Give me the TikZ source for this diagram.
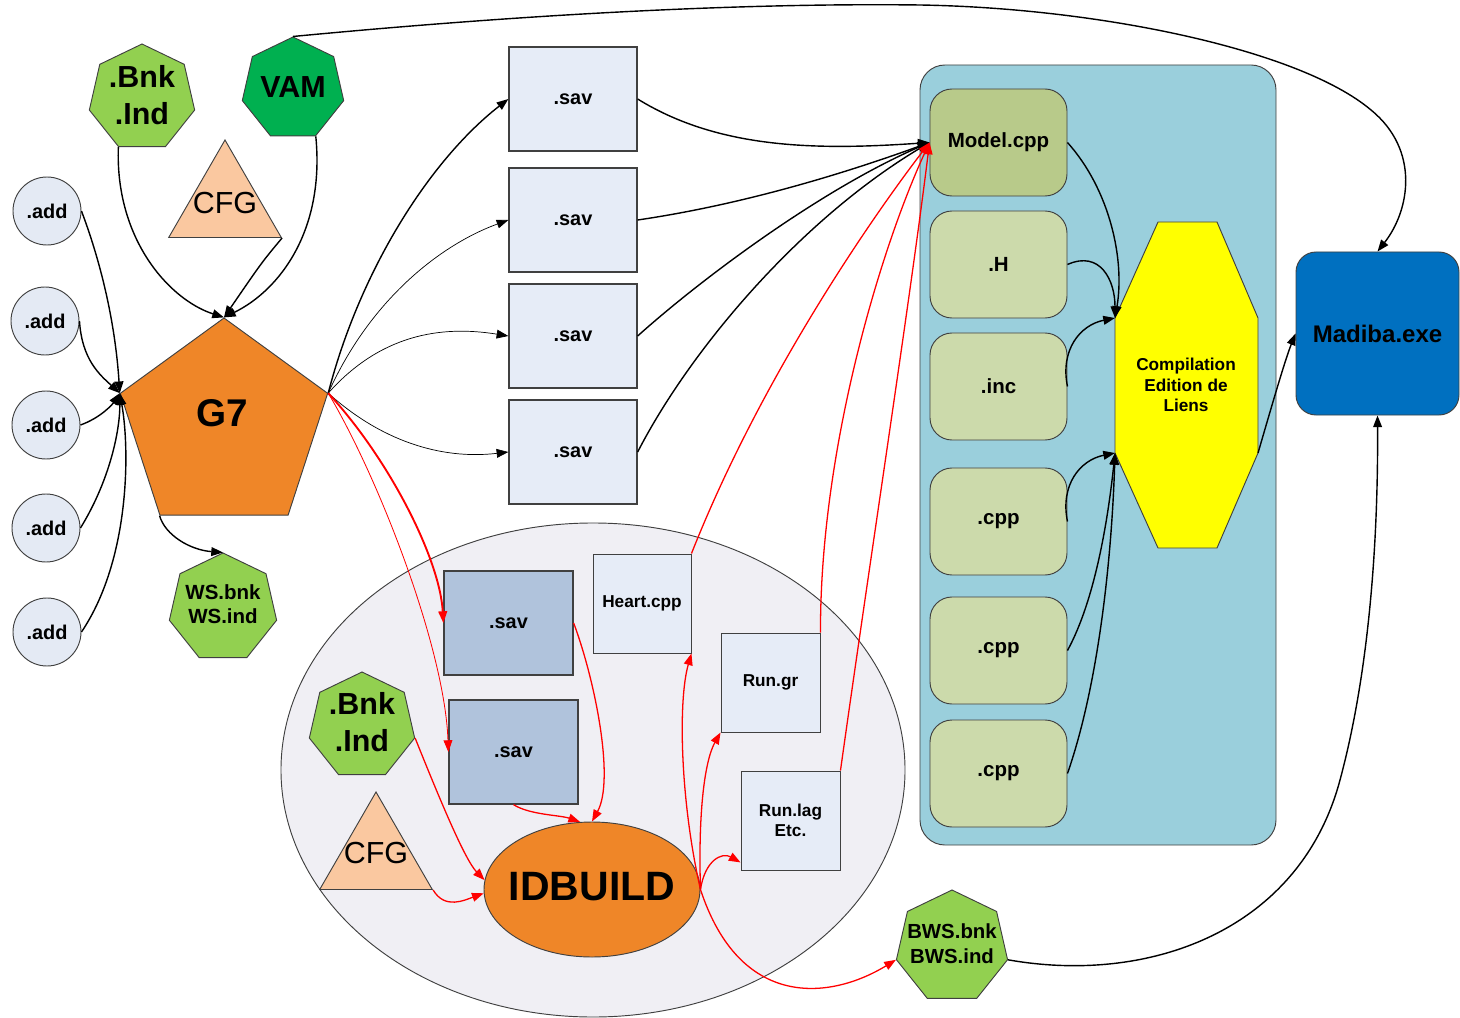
\documentclass[tikz,border=0pt]{standalone}
\usepackage{fontspec}
\setmainfont{Liberation Sans}
\usetikzlibrary{shapes.geometric,arrows.meta}
\definecolor{lgreen}{HTML}{92D050}
\definecolor{dgreen}{HTML}{00B050}
\definecolor{peach}{HTML}{FAC8A0}
\definecolor{addfill}{HTML}{E4EAF4}
\definecolor{orangeF}{HTML}{EF8628}
\definecolor{savfill}{HTML}{E6ECF7}
\definecolor{isavfill}{HTML}{B0C3DC}
\definecolor{bluebg}{HTML}{9ACFDC}
\definecolor{modelfill}{HTML}{B8CA8A}
\definecolor{srcfill}{HTML}{CCDAAB}
\definecolor{madibafill}{HTML}{0070C0}
\definecolor{ellfill}{HTML}{F0EFF4}
\definecolor{outl}{HTML}{404040}
\definecolor{pureyellow}{HTML}{FFFF00}
\newcommand\fsz[2]{\fontsize{#1pt}{#2pt}\selectfont}
\tikzset{
  shp/.style={draw=outl, line width=0.8pt},
  addc/.style={shp, circle, fill=addfill, minimum size=2.04cm, inner sep=0pt, font=\fsz{17}{20}\bfseries},
  hepta/.style={shp, regular polygon, regular polygon sides=7, inner sep=0pt, fill=lgreen},
  tri/.style={shp, regular polygon, regular polygon sides=3, inner sep=0pt, fill=peach, minimum size=3.9cm},
  savbox/.style={draw=outl, line width=1.1pt, rectangle, fill=savfill, minimum width=3.84cm, minimum height=3.12cm, inner sep=0pt, font=\fsz{17}{20}\bfseries},
  isavbox/.style={savbox, fill=isavfill, minimum width=3.87cm},
  filebox/.style={shp, rectangle, fill=savfill, minimum width=2.97cm, minimum height=2.97cm, inner sep=0pt, align=center, font=\fsz{14.7}{17.5}\bfseries},
  srcbox/.style={shp, rectangle, rounded corners=0.66cm, fill=srcfill, minimum width=4.11cm, minimum height=3.21cm, inner sep=0pt, font=\fsz{17.5}{20}\bfseries},
  lbl/.style={inner sep=0pt, align=center},
  arr/.style={-{Triangle[length=10pt,width=7.5pt]}, line width=1.2pt, black},
  arrthin/.style={arr, line width=0.6pt},
  rarr/.style={-{Triangle[length=10pt,width=7.5pt]}, line width=1.1pt, red},
  rarrthick/.style={rarr, line width=1.6pt},
  rarrthin/.style={rarr, line width=0.7pt},
}
\begin{document}
\begin{tikzpicture}[x=0.03cm, y=-0.03cm]
\useasboundingbox (0,0) rectangle (1460,1018);
% containers
\node[draw=outl, line width=0.8pt, ellipse, fill=ellfill, minimum width=18.72cm, minimum height=14.82cm, inner sep=0pt] (bigell) at (593,770) {};
\node[shp, rectangle, rounded corners=0.75cm, fill=bluebg, minimum width=10.68cm, minimum height=23.4cm, inner sep=0pt] (blue) at (1098,455) {};

% left part
\node[addc] (add1) at (47,211) {.add};
\node[addc] (add2) at (45,321) {.add};
\node[addc] (add3) at (46,425) {.add};
\node[addc] (add4) at (46,528) {.add};
\node[addc] (add5) at (47,632) {.add};

\node[hepta, minimum size=3.24cm] (bnk1) at (142,98) {};
\node[lbl, font=\fsz{26}{31.5}\bfseries] (bnk1t) at (142,95) {.Bnk\\.Ind};
\node[hepta, fill=dgreen, minimum size=3.12cm] (vam) at (293,89) {};
\node[lbl, font=\fsz{26}{30}\bfseries] (vamt) at (293,87) {VAM};
\node[tri] (cfg1) at (225,205) {};
\node[lbl, font=\fsz{26}{30}] (cfg1t) at (225,203) {CFG};

\node[shp, regular polygon, regular polygon sides=5, fill=orangeF, minimum size=6.54cm, inner sep=0pt] (g7) at (224,427) {};
\node[lbl, font=\fsz{33}{36}\bfseries] (g7t) at (222,413) {G7};

\node[hepta, minimum size=3.3cm] (ws) at (223,608) {};
\node[lbl, font=\fsz{17.5}{21}\bfseries] (wst) at (223,604) {WS.bnk\\WS.ind};

% sav boxes
\node[savbox] (sav1) at (573,99) {.sav};
\node[savbox] (sav2) at (573,220) {.sav};
\node[savbox] (sav3) at (573,336) {.sav};
\node[savbox] (sav4) at (573,452) {.sav};

% sources
\node[srcbox, fill=modelfill] (model) at (998.5,142.5) {Model.cpp};
\node[srcbox] (hh) at (998.5,264.5) {.H};
\node[srcbox] (inc) at (998.5,386.5) {.inc};
\node[srcbox] (cpp1) at (998.5,521.5) {.cpp};
\node[srcbox] (cpp2) at (998.5,650.5) {.cpp};
\node[srcbox] (cpp3) at (998.5,773.5) {.cpp};

% compilation octagon
\coordinate (yUL) at (1115,318);
\coordinate (yTL) at (1158,222);
\coordinate (yTR) at (1217,222);
\coordinate (yUR) at (1258,318);
\coordinate (yLR) at (1258,453);
\coordinate (yBR) at (1217,548);
\coordinate (yBL) at (1158,548);
\coordinate (yLL) at (1115,453);
\draw[shp, fill=pureyellow] (yUL) -- (yTL) -- (yTR) -- (yUR) -- (yLR) -- (yBR) -- (yBL) -- (yLL) -- cycle;
\node[lbl, font=\fsz{14.7}{17.6}\bfseries] (comp) at (1186,385) {Compilation\\Edition de\\Liens};

\node[shp, rectangle, rounded corners=0.6cm, fill=madibafill, minimum width=4.89cm, minimum height=4.89cm, inner sep=0pt, font=\fsz{20.5}{24}\bfseries] (madiba) at (1377.5,333.5) {Madiba.exe};

% inside the ellipse
\node[isavbox] (isav1) at (508.5,623) {.sav};
\node[isavbox] (isav2) at (513.5,752) {.sav};
\node[filebox, minimum width=2.94cm] (heart) at (642,603.5) {Heart.cpp};
\node[filebox] (rungr) at (770.5,682.5) {Run.gr};
\node[filebox] (runlag) at (790.5,820.5) {Run.lag\\Etc.};
\node[hepta, minimum size=3.24cm] (bnk2) at (362,726) {};
\node[lbl, font=\fsz{26}{31.5}\bfseries] (bnk2t) at (362,722) {.Bnk\\.Ind};
\node[tri] (cfg2) at (376,857) {};
\node[lbl, font=\fsz{26}{30}] (cfg2t) at (376,853) {CFG};
\node[shp, ellipse, fill=orangeF, minimum width=6.48cm, minimum height=4.05cm, inner sep=0pt] (idbuild) at (592,889.5) {};
\node[lbl, font=\fsz{35}{38}\bfseries] (idbuildt) at (592,887) {IDBUILD};

\node[hepta, minimum size=3.42cm] (bws) at (952,947) {};
\node[lbl, font=\fsz{17.4}{21}\bfseries] (bwst) at (952,944) {BWS.bnk\\BWS.ind};

% black connectors
\draw[arr] (bnk1.corner 4) .. controls (115,240) and (170,300) .. (g7.corner 1);
\draw[arr] (vam.corner 5) .. controls (325,230) and (280,290) .. (g7.corner 1);
\draw[arr] (cfg1.corner 3) .. controls (262,262) .. (g7.corner 1);

\draw[arr] (add1.east) .. controls (100,260) and (115,320) .. (g7.corner 2);
\draw[arr] (add2.east) .. controls (82,360) and (100,375) .. (g7.corner 2);
\draw[arr] (add3.east) .. controls (100,418) and (112,405) .. (g7.corner 2);
\draw[arr] (add4.east) .. controls (110,480) and (120,430) .. (g7.corner 2);
\draw[arr] (add5.east) .. controls (130,560) and (130,450) .. (g7.corner 2);

\draw[arr] (g7.corner 3) .. controls (165,535) and (190,550) .. (ws.corner 1);

\draw[arr] (g7.corner 5) .. controls (360,270) and (430,160) .. (sav1.west);
\draw[arrthin] (g7.corner 5) .. controls (370,300) and (440,245) .. (sav2.west);
\draw[arrthin] (g7.corner 5) .. controls (380,335) and (440,325) .. (sav3.west);
\draw[arrthin] (g7.corner 5) .. controls (380,440) and (440,460) .. (sav4.west);

\draw[arr] (sav1.east) .. controls (720,150) and (820,150) .. (model.west);
\draw[arr] (sav2.east) .. controls (740,205) and (840,175) .. (model.west);
\draw[arr] (sav3.east) .. controls (700,280) and (820,190) .. (model.west);
\draw[arr] (sav4.east) .. controls (690,350) and (800,220) .. (model.west);

\coordinate (vamvia1) at (920,5);
\coordinate (vamvia2) at (1371,110);
\draw[arr] (vam.corner 1) .. controls (550,12) and (760,3) .. (vamvia1)
  .. controls (1100,8) and (1300,50) .. (vamvia2)
  .. controls (1420,150) and (1410,210) .. (madiba.north);

\draw[arr] (model.east) .. controls (1110,190) and (1125,260) .. (yUL);
\draw[arr] (hh.east) .. controls (1100,250) and (1115,280) .. (yUL);
\draw[arr] (inc.east) .. controls (1060,350) and (1080,325) .. (yUL);
\draw[arr] (cpp1.east) .. controls (1060,485) and (1080,460) .. (yLL);
\draw[arr] (cpp2.east) .. controls (1095,600) and (1108,520) .. (yLL);
\draw[arr] (cpp3.east) .. controls (1100,680) and (1112,550) .. (yLL);
\draw[arr] (yLR) .. controls (1272,405) and (1285,360) .. (madiba.west);

\coordinate (bwsvia) at (1340,780);
\draw[arr] (bws.corner 6) .. controls (1150,985) and (1300,930) .. (bwsvia) .. controls (1375,650) and (1378,500) .. (madiba.south);

% red connectors
\draw[rarrthick] (g7.corner 5) .. controls (390,460) and (440,560) .. (isav1.west);
\draw[rarrthin] (g7.corner 5) .. controls (380,480) and (445,650) .. (isav2.west);
\draw[rarr] (isav1.east) .. controls (595,680) and (615,780) .. (idbuild.north);
\draw[rarr] (isav2.south) .. controls (530,815) and (560,815) .. (idbuild.100);
\draw[rarr] (bnk2.corner 6) .. controls (440,800) and (465,860) .. (idbuild.175);
\draw[rarr] (cfg2.corner 3) .. controls (445,910) and (465,900) .. (idbuild.182);
\draw[rarr] (idbuild.east) .. controls (680,800) and (678,700) .. (heart.south east);
\draw[rarr] (idbuild.east) .. controls (698,810) and (705,760) .. (rungr.south west);
\draw[rarr] (idbuild.east) .. controls (705,860) and (722,852) .. (runlag.220);
\draw[rarr] (idbuild.east) .. controls (740,1010) and (830,1000) .. (bws.corner 3);
\draw[rarr] (heart.north east) .. controls (760,380) and (870,220) .. (model.west);
\draw[rarr] (rungr.north east) .. controls (820,450) and (880,250) .. (model.west);
\draw[rarr] (runlag.north east) .. controls (870,560) and (910,300) .. (model.west);
\end{tikzpicture}
\end{document}
